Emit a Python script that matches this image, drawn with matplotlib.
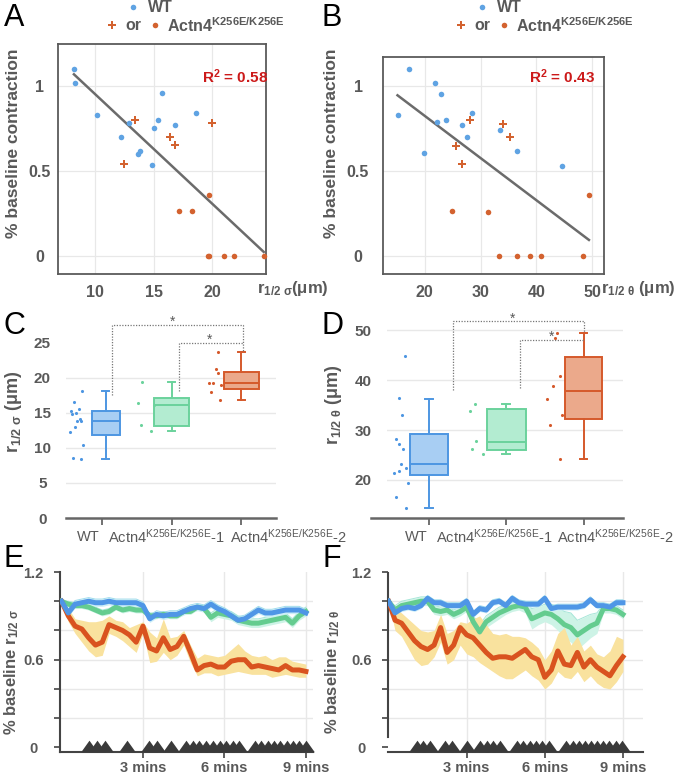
import numpy as np
import matplotlib
matplotlib.use("Agg")
import matplotlib.pyplot as plt
from matplotlib.path import Path

plt.rcParams['font.family'] = ['Liberation Sans', 'DejaVu Sans']
plt.rcParams['mathtext.fontset'] = 'custom'
plt.rcParams['mathtext.rm'] = 'Liberation Sans'
plt.rcParams['mathtext.bf'] = 'Liberation Sans:bold'
plt.rcParams['mathtext.it'] = 'Liberation Sans:italic'

W, H = 677, 777
GRAY = '#595959'
GRID = '#e8e8e8'
BLUE = '#5fa3e3'
ORANGE = '#d3622f'

# ---------------- A / B data ----------------
wt_sigma = [8.2, 8.3, 10.2, 12.25, 12.9, 13.7, 13.85, 14.85, 15.0, 15.4, 15.7, 16.85, 18.6]
wt_contr_A = [1.10, 1.02, 0.83, 0.70, 0.78, 0.60, 0.62, 0.535, 0.75, 0.80, 0.96, 0.77, 0.84]
ko_plus_sigma = [12.5, 13.4, 16.4, 16.8, 20.0]
ko_plus_contr_A = [0.54, 0.80, 0.70, 0.65, 0.78]
ko_dot_sigma = [17.15, 18.3, 19.7, 19.6, 19.75, 21.0, 21.85, 24.4]
ko_dot_contr_A = [0.263, 0.267, 0.357, 0, 0, 0, 0, 0]

wt_theta = [15.1, 17.2, 19.9, 21.9, 22.2, 22.9, 23.8, 26.7, 27.6, 28.4, 33.4, 36.5, 44.6]
wt_contr_B = [0.83, 1.10, 0.605, 1.016, 0.785, 0.955, 0.80, 0.77, 0.70, 0.84, 0.74, 0.62, 0.53]
ko_plus_theta = [25.5, 26.6, 28.0, 34.0, 35.3]
ko_plus_contr_B = [0.645, 0.54, 0.80, 0.775, 0.70]
ko_dot_theta = [24.8, 31.4, 49.4, 33.35, 36.5, 38.9, 40.8, 48.4]
ko_dot_contr_B = [0.266, 0.26, 0.356, 0, 0, 0, 0, 0]

r2_A = "0.58"
r2_B = "0.43"

# ---------------- C / D data ----------------
groups = ['WT', 'Actn4$^{\\mathregular{K256E/K256E}}$-1', 'Actn4$^{\\mathregular{K256E/K256E}}$-2']
box_face = ['#a8cef3', '#b3ecd1', '#eba98b']
box_edge = ['#4d96e2', '#6bd29c', '#d5592b']

C_q1 = [11.8, 13.1, 18.5]
C_med = [13.9, 16.1, 19.3]
C_q3 = [15.3, 17.2, 20.9]
C_lo = [8.5, 12.5, 16.9]
C_hi = [18.2, 19.5, 23.7]
C_pts = [[18.2, 16.6, 15.3, 15.6, 15.0, 14.9, 14.2, 13.8, 13.8, 13.0, 12.3, 10.4, 8.6, 8.5],
         [19.5, 16.4, 16.2, 13.3, 12.5],
         [23.7, 21.3, 20.7, 19.3, 19.3, 19.0, 18.0, 16.9]]
C_off = [[-0.29, -0.40, -0.45, -0.33, -0.38, -0.43, -0.32, -0.36, -0.31, -0.39, -0.46, -0.28, -0.42, -0.31],
         [-0.42, -0.49, -0.26, -0.44, -0.30],
         [-0.34, -0.37, -0.34, -0.46, -0.41, -0.29, -0.44, -0.31]]

D_q1 = [20.9, 25.9, 32.1]
D_med = [23.2, 27.5, 37.7]
D_q3 = [29.2, 34.2, 44.6]
D_lo = [14.4, 25.2, 24.2]
D_hi = [36.3, 35.1, 49.5]
D_pts = [[44.7, 36.4, 33.0, 28.1, 27.1, 26.2, 23.2, 22.3, 21.7, 21.4, 19.3, 16.5, 14.4],
         [35.1, 33.8, 27.7, 26.2, 25.1],
         [49.5, 48.5, 40.9, 38.9, 36.3, 33.0, 31.0, 24.2]]
D_off = [[-0.31, -0.38, -0.34, -0.42, -0.38, -0.33, -0.36, -0.30, -0.39, -0.45, -0.27, -0.43, -0.30],
         [-0.40, -0.47, -0.39, -0.44, -0.30],
         [-0.34, -0.37, -0.31, -0.40, -0.47, -0.28, -0.43, -0.31]]

# ---------------- E / F data ----------------
t_min = [0, 0.25, 0.5, 0.75, 1, 1.25, 1.5, 1.75, 2, 2.25, 2.5, 2.75, 3, 3.25, 3.5, 3.75,
         4, 4.25, 4.5, 4.75, 5, 5.25, 5.5, 5.75, 6, 6.25, 6.5, 6.75, 7, 7.25, 7.5, 7.75,
         8, 8.25, 8.5, 8.75, 9]

E_blue = [1.00, 0.92, 0.98, 0.99, 1.00, 0.99, 0.99, 1.00, 0.99, 0.99, 0.99, 0.99, 0.97, 0.88, 0.91, 0.90,
          0.91, 0.91, 0.93, 0.95, 0.96, 0.95, 0.98, 0.95, 0.93, 0.90, 0.87, 0.88, 0.91, 0.94, 0.92, 0.92,
          0.93, 0.94, 0.94, 0.94, 0.92]
E_blue_sem = [0.00] + [0.025] * 36
E_green = [1.00, 0.98, 0.97, 0.97, 0.96, 0.94, 0.92, 0.93, 0.96, 0.94, 0.95, 0.94, 0.94, 0.90, 0.90, 0.91,
           0.90, 0.90, 0.93, 0.93, 0.96, 0.95, 0.89, 0.92, 0.91, 0.90, 0.87, 0.86, 0.85, 0.85, 0.86, 0.87,
           0.88, 0.89, 0.85, 0.90, 0.93]
E_green_sem = [0.00] + [0.02] * 21 + [0.03] * 15
E_red = [1.00, 0.90, 0.83, 0.81, 0.75, 0.70, 0.72, 0.84, 0.82, 0.80, 0.77, 0.72, 0.83, 0.68, 0.66, 0.75,
         0.67, 0.69, 0.76, 0.65, 0.53, 0.56, 0.57, 0.55, 0.55, 0.59, 0.60, 0.60, 0.55, 0.56, 0.55, 0.54,
         0.53, 0.56, 0.53, 0.53, 0.52]
E_red_hi = [1.00, 0.95, 0.88, 0.87, 0.86, 0.86, 0.87, 0.90, 0.87, 0.86, 0.82, 0.84, 0.86, 0.79, 0.75, 0.88,
            0.75, 0.76, 0.80, 0.70, 0.61, 0.64, 0.63, 0.62, 0.63, 0.67, 0.71, 0.66, 0.63, 0.62, 0.63, 0.60,
            0.62, 0.62, 0.59, 0.58, 0.57]
E_red_lo = [1.00, 0.86, 0.78, 0.72, 0.66, 0.62, 0.63, 0.78, 0.76, 0.73, 0.69, 0.65, 0.78, 0.58, 0.59, 0.65,
            0.60, 0.63, 0.70, 0.58, 0.49, 0.51, 0.51, 0.49, 0.50, 0.51, 0.52, 0.51, 0.50, 0.50, 0.50, 0.48,
            0.49, 0.50, 0.49, 0.48, 0.48]
E_stim = [1.0, 1.3, 1.6, 2.4, 3.23, 3.53, 4.05, 4.6, 4.84, 5.08, 5.33, 5.57, 5.82, 6.06, 6.31, 6.55,
          7.12, 7.35, 7.59, 7.82, 8.06, 8.29, 8.53, 8.76, 9.0]

F_blue = [1.00, 0.92, 0.95, 0.96, 0.95, 0.97, 1.02, 0.99, 0.99, 0.97, 0.97, 0.97, 1.00, 0.91, 0.95, 0.94,
          0.99, 1.00, 0.97, 1.02, 0.99, 0.98, 0.98, 0.98, 1.02, 0.95, 0.96, 0.96, 0.96, 0.96, 0.97, 1.01,
          0.97, 0.97, 0.96, 0.99, 0.99]
F_blue_sem = [0.00] + [0.02] * 36
F_green = [1.00, 0.94, 0.97, 0.98, 0.99, 1.00, 1.00, 0.94, 0.93, 0.94, 0.91, 0.93, 0.96, 0.86, 0.79, 0.86,
           0.89, 0.92, 0.94, 0.96, 0.97, 0.96, 0.88, 0.90, 0.92, 0.91, 0.88, 0.84, 0.82, 0.77, 0.80, 0.83,
           0.85, 0.95, 0.95, 0.94, 0.91]
F_green_sem = [0.00, 0.03, 0.03, 0.03, 0.03, 0.03, 0.03, 0.03, 0.03, 0.03, 0.03, 0.03, 0.03, 0.04, 0.05, 0.04,
               0.04, 0.04, 0.03, 0.03, 0.03, 0.04, 0.07, 0.06, 0.06, 0.07, 0.08, 0.09, 0.10, 0.10, 0.09, 0.08,
               0.07, 0.03, 0.03, 0.03, 0.03]
F_red = [1.00, 0.87, 0.85, 0.79, 0.73, 0.69, 0.67, 0.70, 0.82, 0.65, 0.70, 0.82, 0.77, 0.75, 0.70, 0.65,
         0.61, 0.62, 0.62, 0.61, 0.64, 0.67, 0.62, 0.60, 0.48, 0.53, 0.66, 0.57, 0.56, 0.65, 0.55, 0.60,
         0.55, 0.52, 0.49, 0.56, 0.62]
F_red_hi = [1.00, 0.95, 0.92, 0.88, 0.84, 0.80, 0.79, 0.80, 0.91, 0.78, 0.80, 0.86, 0.85, 0.88, 0.90, 0.84,
            0.78, 0.77, 0.78, 0.76, 0.76, 0.75, 0.72, 0.68, 0.60, 0.66, 0.78, 0.82, 0.70, 0.76, 0.66, 0.70,
            0.64, 0.62, 0.66, 0.76, 0.74]
F_red_lo = [1.00, 0.80, 0.76, 0.68, 0.60, 0.56, 0.57, 0.62, 0.72, 0.57, 0.60, 0.70, 0.64, 0.62, 0.58, 0.55,
            0.52, 0.49, 0.47, 0.47, 0.50, 0.53, 0.49, 0.46, 0.40, 0.44, 0.52, 0.48, 0.47, 0.52, 0.45, 0.49,
            0.44, 0.41, 0.40, 0.45, 0.52]
F_stim = [1.09, 1.34, 1.6, 2.17, 2.43, 3.0, 3.51, 3.77, 4.02, 4.28, 4.92, 5.17, 5.42, 5.67, 5.91, 6.17,
          6.83, 7.07, 7.3, 7.54, 7.77, 8.01, 8.25, 8.48, 8.72, 8.95]


fig = plt.figure(figsize=(W / 100, H / 100), dpi=100)


def px_axes(l, t, r, b):
    return fig.add_axes([l / W, 1 - b / H, (r - l) / W, (b - t) / H])


def scatter_panel(ax, wx, wy, px, py, dx, dy, xlim, ylim, xticks, ypad):
    ax.set_xlim(*xlim)
    ax.set_ylim(*ylim)
    ax.set_xticks(xticks)
    ax.set_yticks([0, 0.5, 1])
    ax.set_yticklabels(['0', '0.5', '1'])
    ax.grid(True, color=GRID, lw=0.9)
    ax.set_axisbelow(True)
    for s in ax.spines.values():
        s.set_color('#5a5a5a')
        s.set_linewidth(1.3)
    ax.tick_params(length=0, labelsize=11.5, labelcolor=GRAY, pad=8)
    ax.tick_params(axis='y', pad=ypad)
    for lab in ax.get_xticklabels() + ax.get_yticklabels():
        lab.set_fontweight('bold')
    for lab in ax.get_yticklabels():
        lab.set_ha('center')
    allx = np.array(wx + px + dx)
    ally = np.array(wy + py + dy)
    k, c = np.polyfit(allx, ally, 1)
    xs = np.array([allx.min(), allx.max()])
    ax.plot(xs, k * xs + c, color='#6b6b6b', lw=1.8, zorder=2)
    ax.scatter(wx, wy, s=16, color=BLUE, lw=0, zorder=3)
    ax.scatter(dx, dy, s=16, color=ORANGE, lw=0, zorder=3, clip_on=False)
    ax.scatter(px, py, s=36, marker='P', color=ORANGE, lw=0, zorder=3)


axA = px_axes(58, 44, 265.5, 274)
scatter_panel(axA, wt_sigma, wt_contr_A, ko_plus_sigma, ko_plus_contr_A, ko_dot_sigma, ko_dot_contr_A,
              (6.84, 24.55), (-0.106, 1.247), [10, 15, 20], 13)
axB = px_axes(383, 57, 604, 274)
scatter_panel(axB, wt_theta, wt_contr_B, ko_plus_theta, ko_plus_contr_B, ko_dot_theta, ko_dot_contr_B,
              (12.5, 52.1), (-0.106, 1.17), [20, 30, 40, 50], 18)


def box_panel(ax, q1, med, q3, lo, hi, pts, offs, widths, centers, xlim, ylim, yticks, grid_vals):
    stats = []
    for i in range(3):
        stats.append(dict(q1=q1[i], med=med[i], q3=q3[i], whislo=lo[i], whishi=hi[i], fliers=[]))
    ax.set_xlim(*xlim)
    ax.set_ylim(*ylim)
    for g in grid_vals:
        ax.axhline(g, color=GRID, lw=1.0, zorder=0)
    bp = ax.bxp(stats, positions=centers, widths=widths, patch_artist=True, showfliers=False,
                capwidths=[0.1, 0.1, 0.1], manage_ticks=False)
    for i in range(3):
        bp['boxes'][i].set(facecolor=box_face[i], edgecolor=box_edge[i], lw=1.4)
        bp['medians'][i].set(color=box_edge[i], lw=1.4)
        for j in (2 * i, 2 * i + 1):
            bp['whiskers'][j].set(color=box_edge[i], lw=1.4)
            bp['caps'][j].set(color=box_edge[i], lw=1.4)
        ax.scatter(np.array(offs[i]) + i, pts[i], s=5, color=box_edge[i], lw=0, zorder=3)
    for s in ('left', 'right', 'top'):
        ax.spines[s].set_visible(False)
    ax.spines['bottom'].set_color('#666666')
    ax.spines['bottom'].set_linewidth(1.8)
    ax.set_xticks([0, 1, 2])
    ax.set_xticklabels(['', '', ''])
    ax.tick_params(axis='x', length=5, width=1.3, color='#666666')
    ax.set_yticks(yticks)
    ax.tick_params(axis='y', length=0, pad=17, labelsize=11, labelcolor=GRAY)
    for lab in ax.get_yticklabels():
        lab.set_fontweight('bold')
        lab.set_ha('center')


def bracket(ax, x0, y0, x1, y1, ytop):
    ax.plot([x0, x0, x1, x1], [y0, ytop, ytop, y1], ls=(0, (1, 1.2)), color='#777777', lw=0.9,
            clip_on=False)


axC = px_axes(66, 311.5, 276, 518)
box_panel(axC, C_q1, C_med, C_q3, C_lo, C_hi, C_pts, C_off, [0.4, 0.5, 0.5], [0.05, 1, 2],
          (-0.52, 2.5), (0, 29.5), [0, 5, 10, 15, 20, 25], [5, 10, 15, 20])
bracket(axC, 0.14, 17.6, 2.02, 23.9, 27.6)
bracket(axC, 1.106, 18.2, 2.02, 25.0, 25.0)
axC.text(1.01, 28.0, '*', ha='center', va='center', fontsize=10, color=GRAY)
axC.text(1.55, 25.4, '*', ha='center', va='center', fontsize=10, color=GRAY)

axD = px_axes(387, 309, 623, 518)
box_panel(axD, D_q1, D_med, D_q3, D_lo, D_hi, D_pts, D_off, [0.49, 0.5, 0.49], [0, 1, 2],
          (-0.54, 2.51), (12.4, 54.2), [20, 30, 40, 50], [20, 30, 40, 50])
axD.spines['bottom'].set_bounds(-0.75, 2.51)
bracket(axD, 0.31, 38.0, 2.0, 49.6, 51.7)
bracket(axD, 1.18, 38.4, 2.0, 48.0, 48.0)
axD.text(1.08, 52.3, '*', ha='center', va='center', fontsize=10, color=GRAY)
axD.text(1.58, 48.6, '*', ha='center', va='center', fontsize=10, color=GRAY)

tri = Path([(-1, -0.7), (1, -0.7), (0, 0.7), (-1, -0.7)])


def time_panel(ax, blue, bsem, green, gsem, red, rlo, rhi, stim, xlim):
    t = np.array(t_min)
    b, bs = np.array(blue), np.array(bsem)
    g, gs = np.array(green), np.array(gsem)
    ax.set_xlim(*xlim)
    ax.set_ylim(-0.031, 1.196)
    ax.set_yticks([0, 0.2, 0.4, 0.6, 0.8, 1.0, 1.2])
    ax.set_yticklabels(['0', '', '', '0.6', '', '', '1.2'])
    ax.set_xticks([3, 6, 9])
    ax.set_xticklabels(['3 mins', '6 mins', '9 mins'])
    for v in [0.2, 0.4, 0.6, 0.8, 1.0]:
        ax.axhline(v, color=GRID, lw=1.0, zorder=0)
    for v in [3, 6, 9]:
        ax.axvline(v, color=GRID, lw=1.0, zorder=0)
    ax.fill_between(t, g - gs, g + gs, color='#cdf3e6', lw=0, zorder=1)
    ax.plot(t, g + gs, color='#a6e6d8', lw=0.7, zorder=1)
    ax.fill_between(t, b - bs, b + bs, color='#cdeff8', lw=0, zorder=1)
    ax.plot(t, b + bs, color='#9fdcec', lw=0.7, zorder=1)
    ax.fill_between(t, rlo, rhi, color='#f9e29e', lw=0, zorder=1)
    ax.plot(t, green, color='#64cc8f', lw=3.6, zorder=3)
    ax.plot(t, red, color='#d9531f', lw=3.6, zorder=3)
    ax.plot(t, blue, color='#4f96e6', lw=3.6, zorder=4)
    ax.plot(stim, [0.012] * len(stim), ls='none', marker=tri, ms=12, color='#3a3a3a', mew=0,
            clip_on=False, zorder=5)
    for s in ('right', 'top'):
        ax.spines[s].set_visible(False)
    for s in ('left', 'bottom'):
        ax.spines[s].set_color('#444444')
        ax.spines[s].set_linewidth(1.5)
    ax.tick_params(axis='y', length=4, width=1.2, color='#444444', pad=15, labelsize=10.5,
                   labelcolor=GRAY)
    ax.tick_params(axis='x', length=4, width=1.2, color='#444444', pad=2.5, labelsize=10.5,
                   labelcolor=GRAY)
    for lab in ax.get_xticklabels() + ax.get_yticklabels():
        lab.set_fontweight('bold')
    for lab in ax.get_yticklabels():
        lab.set_ha('center')


axE = px_axes(60, 572, 313, 752)
time_panel(axE, E_blue, E_blue_sem, E_green, E_green_sem, E_red, E_red_lo, E_red_hi, E_stim, (-0.055, 9.26))
axF = px_axes(388, 572, 643, 752)
time_panel(axF, F_blue, F_blue_sem, F_green, F_green_sem, F_red, F_red_lo, F_red_hi, F_stim, (-0.02, 9.77))
axF.spines['left'].set_bounds(0.075, 1.196)

# ---------------- overlay for labels ----------------
ov = fig.add_axes([0, 0, 1, 1])
ov.set_xlim(0, W)
ov.set_ylim(H, 0)
ov.axis('off')

for letter, x, y in [('A', 14, 18), ('B', 332, 18), ('C', 14, 326), ('D', 332, 326),
                     ('E', 14, 559), ('F', 332, 559)]:
    ov.text(x, y, letter, fontsize=22, ha='center', va='center', color='black')

# legends over A and B
for x0 in (0, 349):
    ov.scatter([133 + x0], [7], s=16, color=BLUE, lw=0)
    ov.text(148 + x0, 8, 'WT', fontsize=11.5, fontweight='bold', color=GRAY, va='center')
    ov.scatter([112 + x0], [25], s=36, marker='P', color=ORANGE, lw=0)
    ov.text(125 + x0, 26, 'or', fontsize=11.5, fontweight='bold', color=GRAY, va='center')
    ov.scatter([155 + x0], [25], s=16, color=ORANGE, lw=0)
    ov.text(167 + x0, 26, 'Actn4$^{\\mathbf{K256E/K256E}}$', fontsize=11.5, fontweight='bold',
            color=GRAY, va='center')

ov.text(268, 77, 'R$^{\\mathbf{2}}$ = ' + r2_A, fontsize=11, fontweight='bold', color='#cc1a1a',
        ha='right', va='center')
ov.text(595, 77, 'R$^{\\mathbf{2}}$ = ' + r2_B, fontsize=11, fontweight='bold', color='#cc1a1a',
        ha='right', va='center')

for x in (14, 332):
    ov.text(x, 143, '% baseline contraction', rotation=90, fontsize=12.5, fontweight='bold',
            color=GRAY, ha='center', va='center')
ov.text(257, 288, 'r$_{\\mathbf{1/2\\ σ}}$(μm)', fontsize=12, fontweight='bold', color=GRAY,
        ha='left', va='center')
ov.text(601, 288, 'r$_{\\mathbf{1/2\\ θ}}$ (μm)', fontsize=12, fontweight='bold', color=GRAY,
        ha='left', va='center')

ov.text(14, 412, 'r$_{\\mathbf{1/2\\ σ}}$ (μm)', rotation=90, fontsize=13, fontweight='bold',
        color=GRAY, ha='center', va='center')
ov.text(333, 405, 'r$_{\\mathbf{1/2\\ θ}}$ (μm)', rotation=90, fontsize=13, fontweight='bold',
        color=GRAY, ha='center', va='center')

for xs in ([88, 166, 288], [416, 494, 615]):
    for x, g in zip(xs, groups):
        ov.text(x, 537, g, fontsize=10.5, color=GRAY, ha='center', va='center')

ov.text(12, 672, '% baseline r$_{\\mathbf{1/2\\ σ}}$', rotation=90, fontsize=12, fontweight='bold',
        color=GRAY, ha='center', va='center')
ov.text(333, 672, '% baseline r$_{\\mathbf{1/2\\ θ}}$', rotation=90, fontsize=12, fontweight='bold',
        color=GRAY, ha='center', va='center')

fig.savefig('out.png', dpi=100)
